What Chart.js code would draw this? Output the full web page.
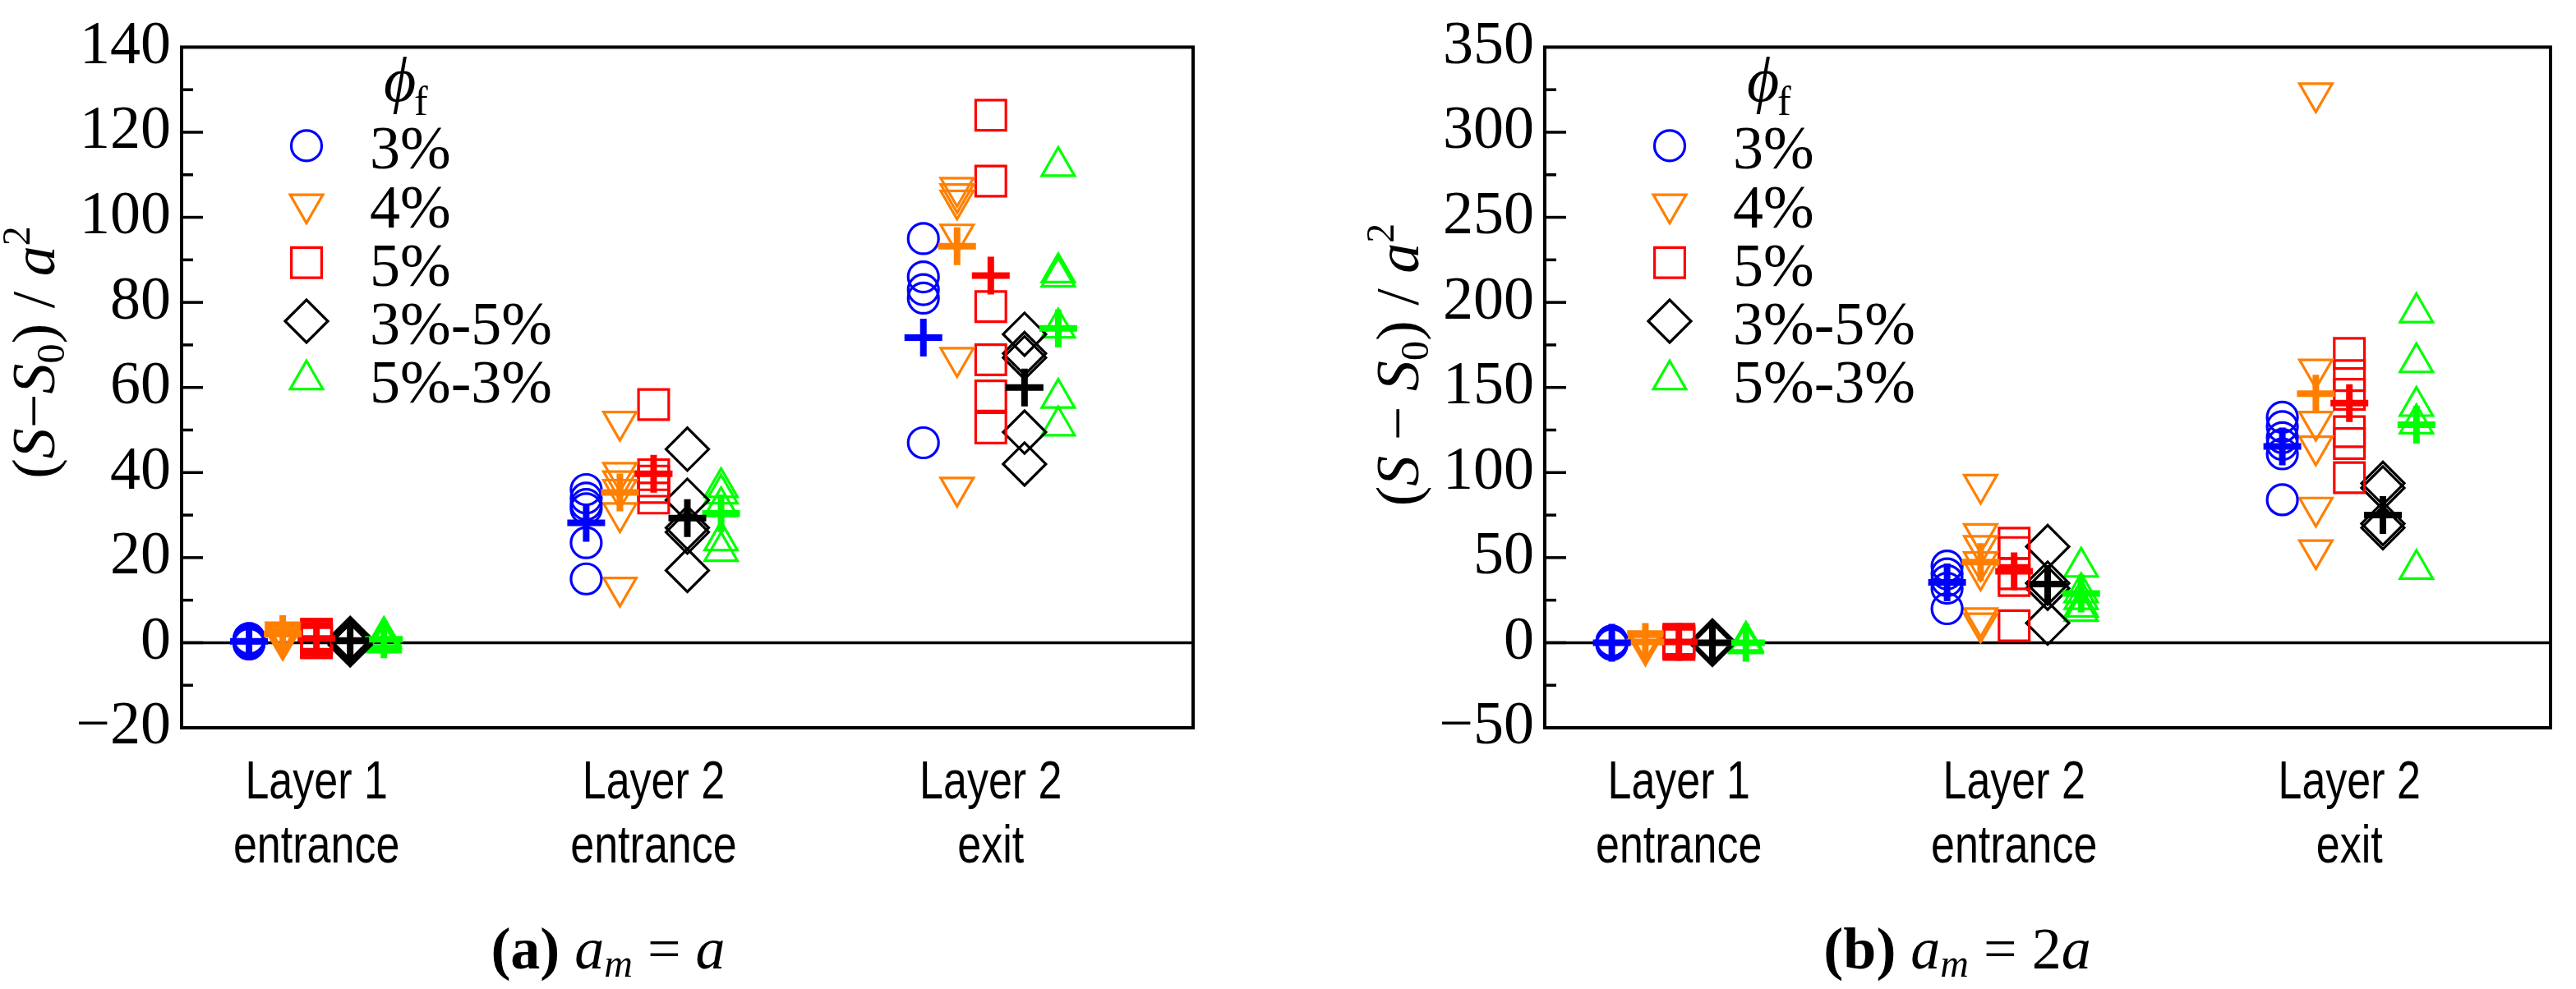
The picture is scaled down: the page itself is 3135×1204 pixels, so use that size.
<!DOCTYPE html>
<html lang="en">
<head>
<meta charset="UTF-8">
<title>(S - S0) / a^2 by layer</title>
<script src="https://cdn.jsdelivr.net/npm/chart.js"></script>
<style>
  html, body { margin: 0; padding: 0; background: #fff; }
  body { width: 3135px; height: 1204px; position: relative; overflow: hidden; }
  .panel { position: absolute; top: 0; height: 1204px; }
  #panelA { left: 0; width: 1560px; }
  #panelB { left: 1560px; width: 1575px; }
</style>
</head>
<body>
<div class="panel" id="panelA"><canvas id="chartA"></canvas></div>
<div class="panel" id="panelB"><canvas id="chartB"></canvas></div>

<script>
// ---- data ----
const categories = [['Layer 1', 'entrance'], ['Layer 2', 'entrance'], ['Layer 2', 'exit']];
const seriesLabels = ['3%', '4%', '5%', '3%-5%', '5%-3%'];

// (a) a_m = a  -- one inner list per category
const yRangeA = [-20, 140];
const yStepA = 20;
const a3 = [[0.5, 0, 1, -0.3, 0.8], [36, 34, 32.5, 31.5, 23.5, 15], [95, 86, 83, 81, 47]];
const a4 = [[2.5, 2, 1, 1.5, 0.5], [52, 40, 38, 36, 30.5, 13], [107, 105.5, 104, 96, 67, 36.5]];
const a5 = [[1, 0.5, 2, 1.5, 0], [56, 39.5, 38, 36.5, 34], [124, 108.5, 79, 66.5, 58, 50.5]];
const a35 = [[0.5, 0, 1, -0.5, 0.3], [45.5, 33.5, 27, 26, 17], [72.5, 68, 67, 49.5, 42]];
const a53 = [[1, 0.5, 1.5, 0, 1], [36.5, 35, 32, 24, 21.5], [112, 87, 86, 74, 57.5, 51]];
// averages (+ markers)
const a3Mean = [0.3, 28.2, 71.7];
const a4Mean = [2, 35.3, 93.2];
const a5Mean = [1, 39.7, 86.3];
const a35Mean = [0.5, 29.3, 60];
const a53Mean = [0.8, 30.4, 73.9];

// (b) a_m = 2a
const yRangeB = [-50, 350];
const yStepB = 50;
const b3 = [[0, 1, -1, 0.5, 0], [45, 40.5, 36.5, 32, 20], [132.5, 127, 120.5, 116.5, 111, 84]];
const b4 = [[-1, 0, -2, 1, -0.5], [93, 64, 57, 47.5, 42, 14.5, 11.5], [323, 160.7, 130, 115.5, 79.5, 54.5]];
const b5 = [[1, 0, 2, 0.5, -1], [58.5, 53, 40.5, 36.5, 10], [170, 157, 146, 124, 117, 97]];
const b35 = [[0, 1, -1, 0.5], [56.5, 35, 32, 11.5], [93.7, 91, 70, 67.5]];
const b53 = [[0, 1, -0.5, 0.5], [44.5, 29.5, 25.5, 21, 18.5], [194, 164.7, 139, 128.7, 43.2]];
const b3Mean = [0, 35.5, 115.3];
const b4Mean = [0.5, 47.4, 146.4];
const b5Mean = [0.5, 42, 140.8];
const b35Mean = [0, 34.5, 75];
const b53Mean = [0, 28.9, 128.1];

// ---- styling ----
const seriesColors = ['#0000ff', '#ff8000', '#ff0000', '#000000', '#00ff00'];
const markers = [
  { style: 'circle', radius: 18.5, rotation: 0 },
  { style: 'triangle', radius: 23, rotation: 180 },
  { style: 'rect', radius: 26, rotation: 0 },
  { style: 'rectRot', radius: 26, rotation: 0 },
  { style: 'triangle', radius: 23, rotation: 0 }
];
const dodge = [-0.2, -0.1, 0, 0.1, 0.2];
const SERIF = '"Liberation Serif", "Times New Roman", serif';
const SANS = '"Liberation Sans", Arial, sans-serif';

function buildDatasets(values, means) {
  const sets = [];
  values.forEach((groups, s) => {
    const pts = [];
    groups.forEach((vals, g) => vals.forEach(v => pts.push({ x: g + 1 + dodge[s], y: v })));
    sets.push({
      label: seriesLabels[s], data: pts, order: 1,
      pointStyle: markers[s].style, pointRadius: markers[s].radius,
      pointRotation: markers[s].rotation, pointBorderWidth: 3.2,
      pointBorderColor: seriesColors[s], pointBackgroundColor: 'rgba(0,0,0,0)'
    });
  });
  means.forEach((m, s) => {
    sets.push({
      label: seriesLabels[s] + ' mean', order: 0,
      data: m.map((v, g) => ({ x: g + 1 + dodge[s], y: v })),
      pointStyle: 'cross', pointRadius: 23, pointBorderWidth: 8,
      pointBorderColor: seriesColors[s], pointBackgroundColor: seriesColors[s]
    });
  });
  return sets;
}

// draw a row of text pieces with mixed fonts, centred on x
function drawRich(ctx, parts, x, y) {
  let total = 0;
  parts.forEach(p => { ctx.font = p.font; total += ctx.measureText(p.t).width; });
  let cx = x - total / 2;
  ctx.textAlign = 'left';
  ctx.textBaseline = 'alphabetic';
  parts.forEach(p => {
    ctx.font = p.font;
    ctx.fillText(p.t, cx, y + (p.dy || 0));
    cx += ctx.measureText(p.t).width;
  });
}

function markerFallback(ctx, m, x, y) {
  ctx.beginPath();
  const r = m.radius;
  if (m.style === 'circle') ctx.arc(x, y, r, 0, Math.PI * 2);
  else if (m.style === 'rect') { const h = r * Math.SQRT1_2; ctx.rect(x - h, y - h, 2 * h, 2 * h); }
  else if (m.style === 'rectRot') { ctx.moveTo(x, y - r); ctx.lineTo(x + r, y); ctx.lineTo(x, y + r); ctx.lineTo(x - r, y); ctx.closePath(); }
  else {
    const d = m.rotation ? -1 : 1;
    ctx.moveTo(x, y - d * r);
    ctx.lineTo(x + r * 0.866, y + d * r / 2);
    ctx.lineTo(x - r * 0.866, y + d * r / 2);
    ctx.closePath();
  }
  ctx.stroke();
}

const decor = {
  id: 'decor',
  beforeDatasetsDraw(chart) {
    const { ctx, chartArea: ca, scales: { y } } = chart;
    const y0 = y.getPixelForValue(0);
    ctx.save();
    ctx.strokeStyle = '#000';
    ctx.lineWidth = 3.5;
    ctx.beginPath(); ctx.moveTo(ca.left, y0); ctx.lineTo(ca.right, y0); ctx.stroke();
    ctx.restore();
  },
  afterDraw(chart, args, o) {
    const { ctx, chartArea: ca, scales: { x, y } } = chart;
    ctx.save();
    ctx.strokeStyle = '#000';
    ctx.fillStyle = '#000';

    // frame
    ctx.lineWidth = 4;
    ctx.strokeRect(ca.left, ca.top, ca.right - ca.left, ca.bottom - ca.top);

    // inward ticks, minor halfway between majors
    ctx.lineWidth = 3.5;
    const step = y.options.ticks.stepSize;
    for (let v = y.min + step / 2; v < y.max; v += step / 2) {
      const py = y.getPixelForValue(v);
      const major = Math.abs((v - y.min) / step - Math.round((v - y.min) / step)) < 1e-6;
      ctx.beginPath(); ctx.moveTo(ca.left, py); ctx.lineTo(ca.left + (major ? 26 : 14), py); ctx.stroke();
    }

    // category labels (narrow sans)
    ctx.font = '65px ' + SANS;
    ctx.textAlign = 'center';
    ctx.textBaseline = 'alphabetic';
    categories.forEach((lines, i) => {
      const px = x.getPixelForValue(i + 1);
      lines.forEach((t, j) => {
        ctx.save();
        ctx.translate(px, ca.bottom + 86 + j * 78);
        ctx.scale(0.8, 1);
        ctx.fillText(t, 0, 0);
        ctx.restore();
      });
    });

    // y axis title
    ctx.save();
    ctx.translate(o.titleX, o.titleY);
    ctx.rotate(-Math.PI / 2);
    drawRich(ctx, o.titleParts, 0, 0);
    ctx.restore();

    // legend
    ctx.textAlign = 'left';
    ctx.font = 'italic 76px ' + SERIF;
    ctx.fillText('\u03D5', ca.left + 246, ca.top + 66);
    ctx.font = '50px ' + SERIF;
    ctx.fillText('f', ca.left + 283, ca.top + 83);
    const dp = Chart.helpers && Chart.helpers.drawPoint;
    seriesLabels.forEach((lab, i) => {
      const base = ca.top + 148 + 71.2 * i;
      const m = markers[i];
      ctx.save();
      ctx.strokeStyle = seriesColors[i];
      ctx.fillStyle = 'rgba(0,0,0,0)';
      ctx.lineWidth = 3.2;
      if (dp) dp(ctx, { pointStyle: m.style, radius: m.radius, rotation: m.rotation, borderWidth: 3.2 }, ca.left + 152, base - 28);
      else markerFallback(ctx, m, ca.left + 152, base - 28);
      ctx.restore();
      ctx.font = '74px ' + SERIF;
      ctx.fillText(lab, ca.left + 229, base);
    });

    // caption
    drawRich(ctx, o.captionParts, o.captionX, ca.bottom + 293);
    ctx.restore();
  }
};

function yTickLabel(v) {
  return v < 0 ? '\u2212' + Math.abs(v) : String(v);
}

function makeChart(id, values, means, yRange, yStep, axisWidth, padRight, extra) {
  return new Chart(document.getElementById(id), {
    type: 'scatter',
    data: { datasets: buildDatasets(values, means) },
    options: {
      responsive: true,
      maintainAspectRatio: false,
      animation: false,
      events: [],
      layout: { padding: { left: 0, top: 49, right: padRight, bottom: 318 } },
      scales: {
        x: { type: 'linear', display: false, min: 0.6, max: 3.6 },
        y: {
          min: yRange[0], max: yRange[1],
          grid: { display: false, drawTicks: false },
          border: { display: false },
          ticks: {
            stepSize: yStep, color: '#000', padding: 13,
            font: { family: SERIF, size: 74 },
            callback: yTickLabel
          },
          afterFit(s) { s.width = axisWidth; }
        }
      },
      plugins: {
        legend: { display: false },
        tooltip: { enabled: false },
        decor: extra
      }
    },
    plugins: [decor]
  });
}

const F = (style, size) => style + ' ' + size + 'px ' + SERIF;

makeChart('chartA', [a3, a4, a5, a35, a53], [a3Mean, a4Mean, a5Mean, a35Mean, a53Mean],
  yRangeA, yStepA, 221, 108, {
    titleX: 66, titleY: 429,
    titleParts: [
      { t: '(', font: F('', 74) }, { t: 'S', font: F('italic', 74) }, { t: '\u2212', font: F('', 74) },
      { t: 'S', font: F('italic', 74) }, { t: '0', font: F('', 48), dy: 12 }, { t: ')', font: F('', 74) },
      { t: ' / ', font: F('', 74) }, { t: 'a', font: F('italic', 74) }, { t: '2', font: F('', 48), dy: -30 }
    ],
    captionX: 740,
    captionParts: [
      { t: '(a)', font: F('bold', 72) }, { t: ' ', font: F('', 72) }, { t: 'a', font: F('italic', 72) },
      { t: 'm', font: F('italic', 48), dy: 10 }, { t: ' = ', font: F('', 72) }, { t: 'a', font: F('italic', 72) }
    ]
  });

makeChart('chartB', [b3, b4, b5, b35, b53], [b3Mean, b4Mean, b5Mean, b35Mean, b53Mean],
  yRangeB, yStepB, 320, 25, {
    titleX: 166, titleY: 444,
    titleParts: [
      { t: '(', font: F('', 74) }, { t: 'S', font: F('italic', 74) }, { t: ' \u2212 ', font: F('', 74) },
      { t: 'S', font: F('italic', 74) }, { t: '0', font: F('', 48), dy: 12 }, { t: ')', font: F('', 74) },
      { t: ' / ', font: F('', 74) }, { t: 'a', font: F('italic', 74) }, { t: '2', font: F('', 48), dy: -30 }
    ],
    captionX: 822,
    captionParts: [
      { t: '(b)', font: F('bold', 72) }, { t: ' ', font: F('', 72) }, { t: 'a', font: F('italic', 72) },
      { t: 'm', font: F('italic', 48), dy: 10 }, { t: ' = 2', font: F('', 72) }, { t: 'a', font: F('italic', 72) }
    ]
  });
</script>
</body>
</html>
